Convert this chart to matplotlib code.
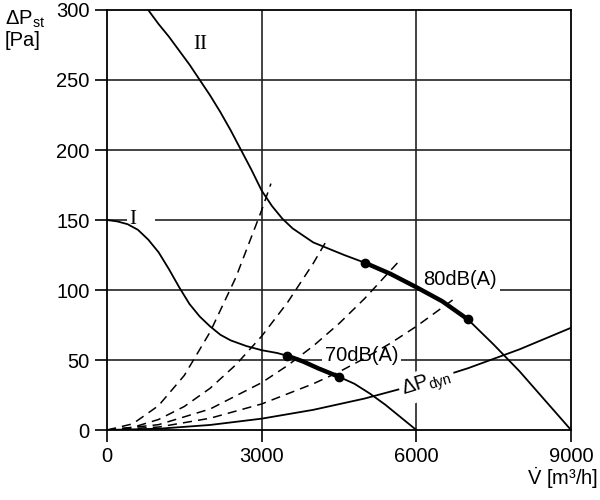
import matplotlib
matplotlib.use("Agg")
import matplotlib.pyplot as plt

plt.rcParams['font.family'] = ['Liberation Sans', 'DejaVu Sans']
plt.rcParams['mathtext.fontset'] = 'custom'
plt.rcParams['mathtext.rm'] = 'Liberation Sans'
plt.rcParams['mathtext.it'] = 'Liberation Sans:italic'

# fan curve II
x_II = [800, 1000, 1200, 1400, 1600, 1800, 2000, 2200, 2400, 2600, 2800,
        3000, 3200, 3400, 3600, 3800, 4000, 4300, 4600, 5000, 5500, 6000,
        6500, 7000, 7500, 8000, 8500, 9000]
y_II = [300, 290, 281, 271, 261, 250, 239, 227, 214, 200, 186,
        171, 160, 151, 144, 139, 134, 129.5, 125, 119.5, 111.5, 102,
        92, 79, 61, 42, 21, 0]

# fan curve I
x_I = [0, 200, 400, 600, 800, 1000, 1200, 1400, 1600, 1800, 2000, 2200,
       2400, 2700, 3000, 3300, 3500, 3800, 4100, 4500, 4800, 5100, 5400,
       5700, 6000]
y_I = [150, 149, 147, 143, 136, 127, 115, 102, 90, 81, 74, 68,
       64, 60, 57, 55, 53, 49, 44, 38, 33, 26, 18, 9, 0]

# 80 dB(A) and 70 dB(A) operating ranges
x_80 = [5000, 5500, 6000, 6500, 7000]
y_80 = [119.5, 111.5, 102, 92, 79]
x_70 = [3500, 3800, 4100, 4500]
y_70 = [53, 49, 44, 38]

# dynamic pressure
x_dyn = [0, 1000, 2000, 3000, 4000, 5000, 6000, 7000, 8000, 9000]
y_dyn = [0, 0.9, 3.6, 8.1, 14.4, 22.5, 32.4, 44.1, 57.6, 73]

# system curves (dashed)
x_s1 = [0, 500, 1000, 1500, 2000, 2500, 3000, 3180]
y_s1 = [0, 4.4, 17.4, 39, 70, 109, 157, 176]
x_s2 = [0, 500, 1000, 1500, 2000, 2500, 3000, 3500, 4000, 4270]
y_s2 = [0, 1.9, 7.5, 16.8, 29.8, 46.6, 67, 91, 119, 136]
x_s3 = [0, 1000, 2000, 3000, 3500, 4000, 4500, 5000, 5700]
y_s3 = [0, 3.8, 15, 33.8, 46, 60, 76, 94, 122]
x_s4 = [0, 1000, 2000, 3000, 4000, 4500, 5000, 5500, 6000, 6710]
y_s4 = [0, 2.1, 8.4, 18.6, 33, 41.5, 51.3, 62, 74, 93]

xticks = [0, 3000, 6000, 9000]
yticks = [0, 50, 100, 150, 200, 250, 300]

fig = plt.figure(figsize=(6, 5), dpi=100)
ax = fig.add_axes([0.1783, 0.14, 0.7734, 0.84])

for y in yticks[1:-1]:
    ax.axhline(y, color='#222222', lw=1.2, zorder=1)
for x in xticks[1:-1]:
    ax.axvline(x, color='#222222', lw=1.2, zorder=1)

for xs, ys in [(x_s1, y_s1), (x_s2, y_s2), (x_s3, y_s3), (x_s4, y_s4)]:
    ax.plot(xs, ys, color='black', lw=1.1, ls=(0, (6, 4)), zorder=3)

ax.plot(x_II, y_II, color='black', lw=1.3, zorder=3)
ax.plot(x_I, y_I, color='black', lw=1.3, zorder=3)
ax.plot(x_dyn, y_dyn, color='black', lw=1.3, zorder=3)

ax.plot(x_80, y_80, color='black', lw=3.2, zorder=4)
ax.plot(x_70, y_70, color='black', lw=3.2, zorder=4)
ax.plot([x_80[0], x_80[-1]], [y_80[0], y_80[-1]], 'o', color='black', ms=6, zorder=5)
ax.plot([x_70[0], x_70[-1]], [y_70[0], y_70[-1]], 'o', color='black', ms=6, zorder=5)

# white boxes only hide the grid lines, curves stay on top
wb = dict(facecolor='white', edgecolor='none', pad=2)
ax.text(440, 150, 'I   ', family='Liberation Serif', fontsize=15,
        ha='left', va='center', bbox=wb, zorder=2)
ax.text(1800, 275, 'II', family='Liberation Serif', fontsize=15,
        ha='center', va='center', bbox=wb, zorder=2)
ax.text(4940, 53, '70dB(A)', fontsize=14.5, ha='center', va='center', bbox=wb, zorder=2)
ax.text(6850, 107.5, '80dB(A)', fontsize=14.5, ha='center', va='center', bbox=wb, zorder=2)
ax.text(6210, 33, r'ΔP$_{\mathrm{dyn}}$', fontsize=14.5, rotation=17,
        rotation_mode='anchor', ha='center', va='center', bbox=wb, zorder=6)

ax.set_xlim(0, 9000)
ax.set_ylim(0, 300)
ax.set_xticks(xticks)
ax.set_yticks(yticks)
ax.tick_params(direction='out', length=8.6, width=1.2, labelsize=14.5)
ax.tick_params(axis='x', pad=4)
ax.tick_params(axis='y', pad=4)
for s in ax.spines.values():
    s.set_linewidth(1.3)

fig.text(0.008, 0.962, r'ΔP$_{\mathrm{st}}$', fontsize=14.5, va='center')
fig.text(0.008, 0.918, '[Pa]', fontsize=14.5, va='center')
fig.text(0.997, 0.044, r'$\dot{\mathrm{V}}$ [m³/h]', fontsize=14.5, ha='right', va='center')

fig.savefig('out.png')
